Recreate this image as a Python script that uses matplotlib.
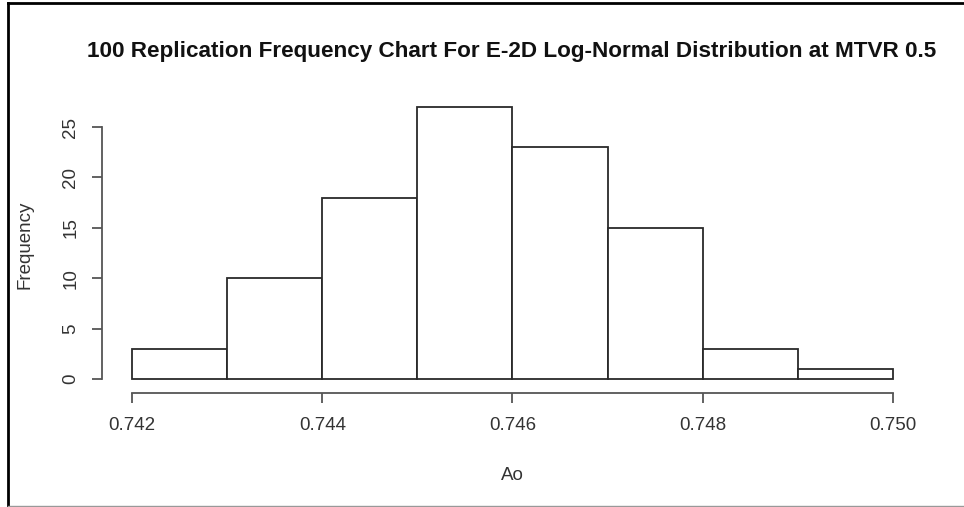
import matplotlib.pyplot as plt
from matplotlib.lines import Line2D

plt.rcParams['font.family'] = ['Liberation Sans', 'DejaVu Sans']

# histogram of Ao over 100 replications
bin_edges = [0.742, 0.743, 0.744, 0.745, 0.746, 0.747, 0.748, 0.749, 0.750]
counts = [3, 10, 18, 27, 23, 15, 3, 1]
x_ticks = [0.742, 0.744, 0.746, 0.748, 0.750]
x_tick_labels = ['0.742', '0.744', '0.746', '0.748', '0.750']
y_ticks = [0, 5, 10, 15, 20, 25]

W, H = 964, 507
# plot region in pixels (R-style separated axes)
left, right, top, bottom = 101.6, 923.4, 96.0, 393.0
fig = plt.figure(figsize=(W / 100, H / 100), dpi=100)
ax = fig.add_axes([left / W, (H - bottom) / H, (right - left) / W, (bottom - top) / H])

ax.bar(bin_edges[:-1], counts, width=[b - a for a, b in zip(bin_edges[:-1], bin_edges[1:])],
       align='edge', color='white', edgecolor='#2a2a2a', linewidth=1.3)

ax.set_xlim(0.74168, 0.75032)
ax.set_ylim(-1.39, 28.08)

for s in ['top', 'right']:
    ax.spines[s].set_visible(False)
ax.spines['left'].set_bounds(0, 25)
ax.spines['bottom'].set_bounds(0.742, 0.750)
for s in ['left', 'bottom']:
    ax.spines[s].set_color('#555555')
    ax.spines[s].set_linewidth(1.3)

ax.set_xticks(x_ticks)
ax.set_xticklabels(x_tick_labels)
ax.set_yticks(y_ticks)
ax.set_yticklabels([str(v) for v in y_ticks], rotation=90, va='center')
ax.tick_params(axis='both', direction='out', length=7, width=1.3, color='#555555',
               labelsize=13.5, labelcolor='#333333')
ax.tick_params(axis='x', pad=10)
ax.tick_params(axis='y', pad=9)

ax.set_xlabel('Ao', fontsize=13.5, color='#333333')
ax.xaxis.label.set_va('center')
ax.xaxis.set_label_coords(0.5, -(475 - bottom) / (bottom - top))
ax.set_ylabel('Frequency', fontsize=13.5, color='#333333')
ax.yaxis.label.set_va('center')
ax.yaxis.set_label_coords(-(left - 25) / (right - left), 0.5)

fig.text(512 / W, 1 - 52 / H,
         '100 Replication Frequency Chart For E-2D Log-Normal Distribution at MTVR 0.5',
         ha='center', va='center', fontsize=16.2, fontweight='bold', color='#111111')

# picture frame
fig.add_artist(Line2D([7.5 / W, 7.5 / W], [0, 1 - 3 / H], color='black', lw=2))
fig.add_artist(Line2D([7.5 / W, 1], [1 - 3 / H, 1 - 3 / H], color='black', lw=2))
fig.add_artist(Line2D([7.5 / W, 1], [1 / H, 1 / H], color='#999999', lw=1))

fig.savefig('out.png', dpi=100)
